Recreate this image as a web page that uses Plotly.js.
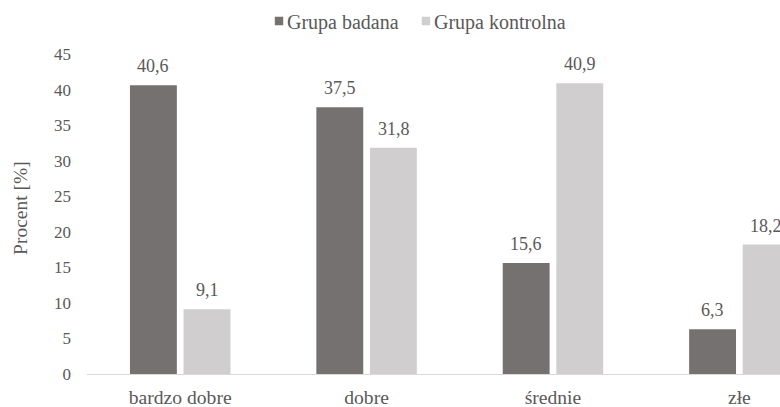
<!DOCTYPE html>
<html>
<head>
<meta charset="utf-8">
<script src="https://cdn.plot.ly/plotly-3.0.1.min.js"></script>
<style>
  html, body { margin: 0; padding: 0; background: #fff; }
  #chart { width: 780px; height: 407px; }
  /* smaller legend swatches, set tight against their labels */
  #chart .legend .legendpoints path,
  #chart .legend2 .legendpoints path {
    transform: translate(32px, 0px) scale(0.7) !important;
  }
</style>
</head>
<body>
<div id="chart"></div>
<script>
// Ocena samopoczucia – odsetek odpowiedzi w obu grupach
const categories = ['bardzo dobre', 'dobre', 'średnie', 'złe'];
const seriesNames = ['Grupa badana', 'Grupa kontrolna'];
const grupaBadana = [40.6, 37.5, 15.6, 6.3];
const grupaKontrolna = [9.1, 31.8, 40.9, 18.2];
const yTicks = [0, 5, 10, 15, 20, 25, 30, 35, 40, 45];
const yTitle = 'Procent [%]';

const fontFamily = 'Liberation Serif, Times New Roman, serif';
const textGrey = '#595959';
const colors = ['#767171', '#d0cece'];
const legendIds = ['legend', 'legend2'];

function barTrace(name, values, color, legendId) {
  return {
    type: 'bar',
    name: name,
    x: categories,
    y: values,
    legend: legendId,
    marker: { color: color, line: { width: 0 } },
    hoverinfo: 'skip'
  };
}

const series = [grupaBadana, grupaKontrolna];
const data = series.map((vals, i) => barTrace(seriesNames[i], vals, colors[i], legendIds[i]));

// value labels above each bar, offset left/right to sit over its bar in the group
const barOffsetPx = [-27, 27];
const fmt = v => v.toFixed(1).replace('.', ',');
const valueLabels = [];
series.forEach((vals, s) => {
  vals.forEach((v, i) => {
    valueLabels.push({
      xref: 'x', yref: 'y',
      x: categories[i], y: v,
      xanchor: 'center', yanchor: 'bottom',
      xshift: barOffsetPx[s], yshift: 7,
      text: fmt(v),
      showarrow: false,
      font: { family: fontFamily, size: 18, color: textGrey }
    });
  });
});

const yTitleAnnotation = {
  xref: 'paper', yref: 'paper',
  x: -0.0952, y: 0.519,
  xanchor: 'center', yanchor: 'middle',
  textangle: -90,
  text: yTitle,
  showarrow: false,
  font: { family: fontFamily, size: 19.5, color: textGrey }
};

function legendBox(x) {
  return {
    orientation: 'h',
    x: x,
    xanchor: 'left',
    y: 1.103,
    yanchor: 'middle',
    font: { family: fontFamily, size: 20, color: textGrey },
    bgcolor: 'rgba(0,0,0,0)'
  };
}

const layout = {
  width: 780,
  height: 407,
  margin: { l: 87, r: 0, t: 54, b: 33, pad: 0 },
  paper_bgcolor: '#ffffff',
  plot_bgcolor: '#ffffff',
  separators: ', ',
  barmode: 'group',
  bargap: 0.425,
  bargroupgap: 0.125,
  font: { family: fontFamily, color: textGrey, size: 17 },
  showlegend: true,
  legend: legendBox(0.2309),
  legend2: legendBox(0.443),
  annotations: valueLabels.concat([yTitleAnnotation]),
  xaxis: {
    type: 'category',
    range: [-0.5, 3.218],
    showline: true,
    linecolor: '#d9d9d9',
    linewidth: 1,
    showgrid: false,
    zeroline: false,
    ticks: '',
    ticklabelstandoff: 5,
    tickfont: { family: fontFamily, size: 19.6, color: textGrey },
    fixedrange: true
  },
  yaxis: {
    range: [0, 45],
    tickvals: yTicks,
    ticktext: yTicks.map(String),
    showline: false,
    showgrid: false,
    zeroline: false,
    ticks: '',
    ticklabelstandoff: 15,
    tickfont: { family: fontFamily, size: 17, color: textGrey },
    fixedrange: true
  }
};

Plotly.newPlot('chart', data, layout, { displayModeBar: false, staticPlot: true });
</script>
</body>
</html>
